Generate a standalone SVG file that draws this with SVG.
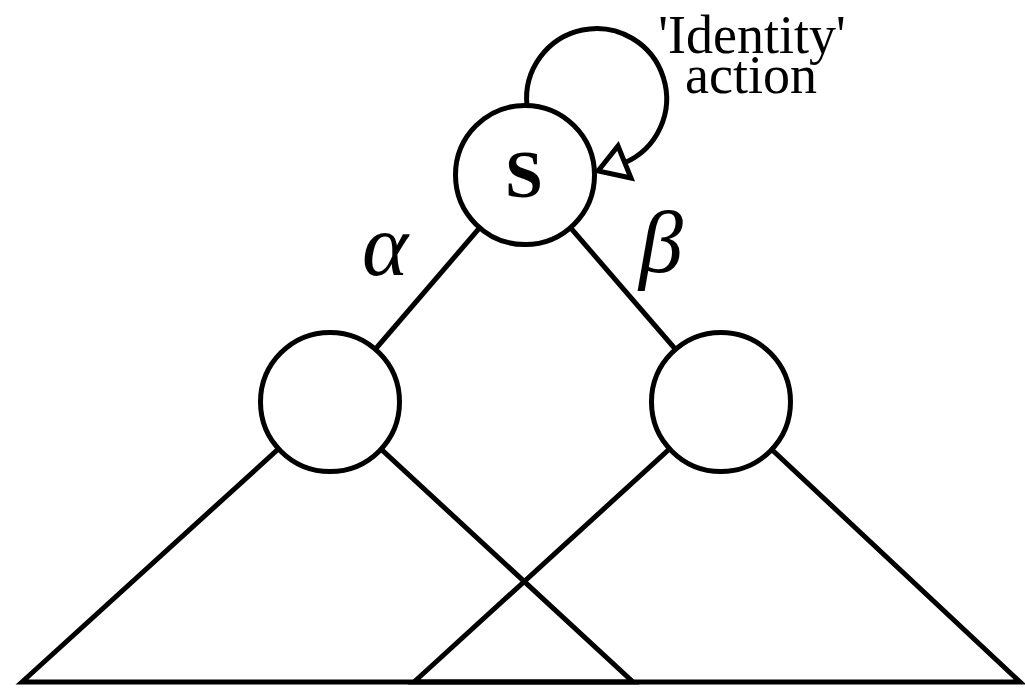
<svg xmlns="http://www.w3.org/2000/svg" width="1025" height="692" viewBox="0 0 1025 692">
<style>
.ln{fill:none;stroke:#000;stroke-width:5;stroke-linejoin:miter}
.nd{fill:#fff;stroke:#000;stroke-width:5}
.lbl{font-family:"Liberation Serif","Times New Roman",serif;fill:#000}
.gr{font-family:"Liberation Serif","Times New Roman",serif;font-style:italic;font-size:88px;fill:#000}
</style>
<rect width="1025" height="692" fill="#fff"/>
<g id="connectors">
<line class="ln" x1="525" y1="175" x2="330" y2="402"/>
<line class="ln" x1="525" y1="175" x2="721" y2="402"/>
<path class="ln" d="M22,682 L330,402 L633,682 Z"/>
<path class="ln" d="M414,682 L721,402 L1020,682 Z"/>
<path class="ln" d="M527,106 A70,70 0 1 1 624,163"/>
<polygon points="598,171 618,146 631,178" fill="#fff" stroke="#000" stroke-width="5" stroke-linejoin="miter"/>
</g>
<g id="node-s">
<circle class="nd" cx="525" cy="175" r="69.5"/>
<text class="lbl" x="524" y="197" font-size="68" font-weight="bold" text-anchor="middle">S</text>
</g>
<g id="node-left">
<circle class="nd" cx="330" cy="402" r="69.5"/>
</g>
<g id="node-right">
<circle class="nd" cx="721" cy="402" r="69.5"/>
</g>
<g id="labels">
<text class="gr" x="385" y="275" text-anchor="middle">α</text>
<text class="gr" x="661" y="272" text-anchor="middle">β</text>
<text class="lbl" x="752" y="53" font-size="54" text-anchor="middle">'Identity'</text>
<text class="lbl" x="751" y="93" font-size="54" text-anchor="middle">action</text>
</g>
</svg>
